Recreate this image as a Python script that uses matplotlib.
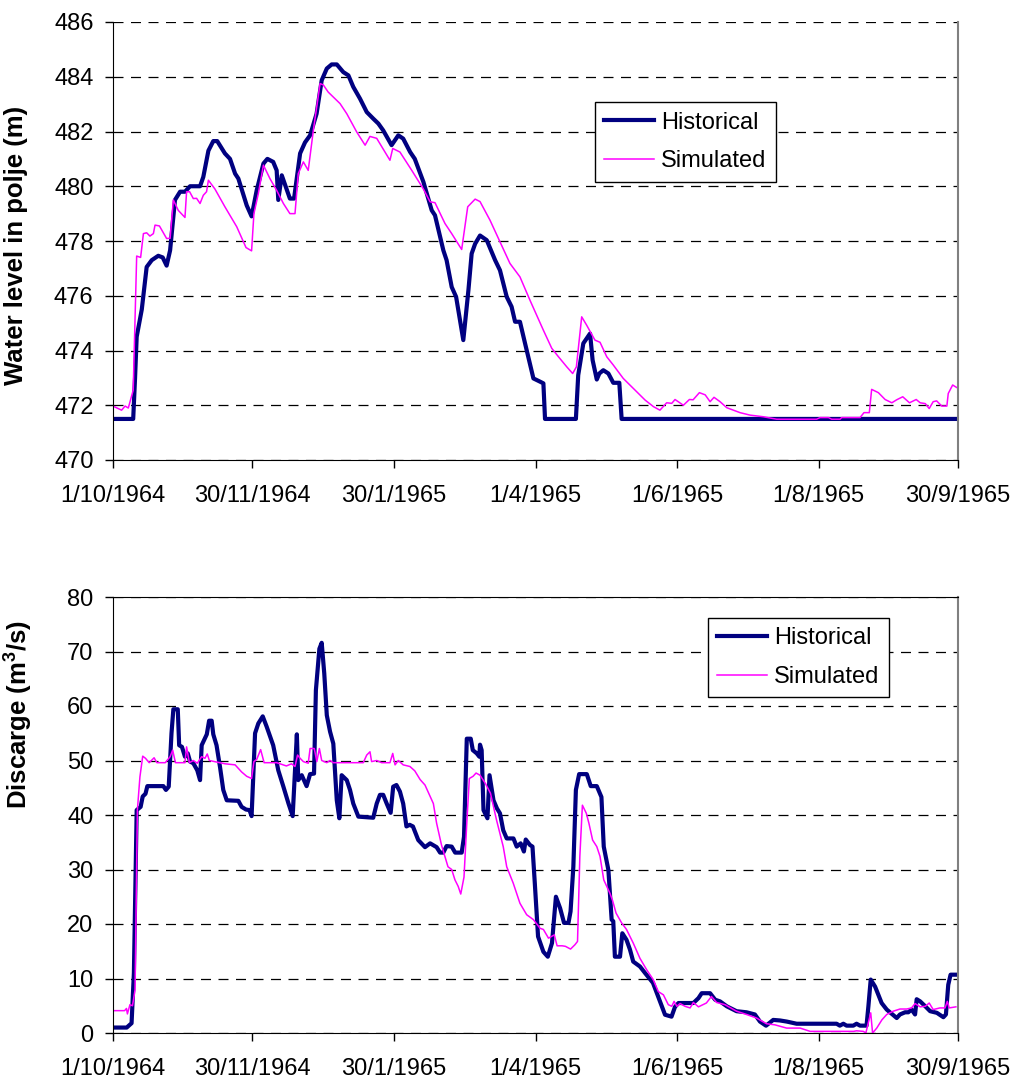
import matplotlib
matplotlib.use("Agg")
import matplotlib.pyplot as plt
import numpy as np
import pandas as pd

plt.rcParams['font.family'] = ['Liberation Sans', 'DejaVu Sans']
plt.rcParams['mathtext.fontset'] = 'custom'
plt.rcParams['mathtext.rm'] = 'Liberation Sans'
plt.rcParams['mathtext.bf'] = 'Liberation Sans:bold'

START = pd.Timestamp('1964-10-01')
END = pd.Timestamp('1965-09-30')

# tick dates shown on both x axes
tick_dates = ['1964-10-01', '1964-11-30', '1965-01-30', '1965-04-01',
              '1965-06-01', '1965-08-01', '1965-09-30']

# ---- water level in polje (m), days since 1/10/1964 ----
level_hist_days = [0, 8.7, 9.5, 10.2, 12.4, 14.5, 16.7, 19.5, 21.4, 23.1,
                   24.6, 26.7, 28.9, 31, 33.2, 37.5, 38.9, 41.1, 43.2, 44.9,
                   48.2, 50.4, 52.6, 54.0, 57.6, 59.7, 61.9, 64.8, 66.5, 69,
                   70.5, 71.2, 72.7, 76.2, 78, 80.6, 82.7, 84.9, 87.7, 89.9,
                   92.1, 94.2, 96.4, 99.2, 101.4, 103.5, 106.4, 109.3, 112.1, 114.3,
                   116.4, 120, 122.9, 125, 128, 130, 133.7, 137.3, 138.7, 142.3,
                   143.7, 145.9, 147.8, 150.9, 153.1, 154.5, 156, 158.1, 161, 164.6,
                   166.7, 169.6, 171.7, 173.2, 175.3, 177.5, 181.1, 184, 185.4, 186.1,
                   199.4, 200.4, 202.6, 205.5, 206.6, 208.4, 209.5, 211.2, 213.4, 215.5,
                   218.1, 219.1, 363.4]
level_hist = [471.5, 471.5, 473.0, 474.5, 475.5, 477.05, 477.3, 477.46, 477.4, 477.1,
              477.66, 479.5, 479.8, 479.8, 480.0, 480.0, 480.34, 481.3, 481.65, 481.65,
              481.2, 481.0, 480.46, 480.28, 479.3, 478.9, 479.85, 480.83, 481.0, 480.89,
              480.58, 479.5, 480.4, 479.55, 479.55, 481.2, 481.6, 481.86, 482.65, 483.87,
              484.3, 484.45, 484.45, 484.17, 484.05, 483.63, 483.2, 482.71, 482.47, 482.29,
              482.04, 481.5, 481.86, 481.74, 481.25, 481.0, 480.16, 479.12, 478.94, 477.66,
              477.3, 476.32, 475.96, 474.38, 476.2, 477.54, 477.9, 478.2, 478.03, 477.3,
              476.93, 475.96, 475.6, 475.05, 475.05, 474.26, 472.98, 472.86, 472.8, 471.5,
              471.5, 473.1, 474.26, 474.62, 473.65, 472.94, 473.16, 473.28, 473.16, 472.82,
              472.82, 471.5, 471.5]

level_sim_days = [0, 3.7, 5.2, 6.6, 8.7, 10.2, 11.9, 13.1, 14.5, 15.9,
                  17.4, 18.1, 20, 23.1, 24.6, 26, 28.1, 31, 31.7, 33,
                  34.6, 36, 37.5, 38.9, 40.3, 41.1, 43.9, 48.2, 53.3, 57.3,
                  59.7, 60.7, 62.6, 64.8, 67.6, 70.5, 73.4, 76.2, 78.4, 79.8,
                  82, 84.1, 86.3, 89.2, 90.6, 92.7, 97.8, 100.7, 105, 108.6,
                  110.7, 113.6, 119.3, 120.5, 123.6, 128.7, 133.7, 136.6, 138.7, 143,
                  145.9, 150.2, 152.8, 156, 158.1, 162.4, 166.7, 171, 175.3, 179.6,
                  185.4, 189, 191.9, 195.5, 198, 199.6, 201.9, 204, 207.6, 209.8,
                  212.7, 215.5, 219.8, 224.1, 229.2, 232.8, 235.6, 238.5, 240.7, 242.1,
                  245.7, 248.3, 249.9, 252.6, 255.1, 257.2, 258.9, 261.5, 264.4, 270.1,
                  274.4, 280.1, 285.9, 303.1, 304.6, 308.2, 309.6, 313.2, 313.9, 321.8,
                  323.5, 325.8, 326.8, 329.7, 332.6, 335.5, 337.6, 340.2, 343.1, 346,
                  347.7, 349.9, 351.6, 353.3, 354.8, 357, 359.2, 359.8, 361.7, 363.4]
level_sim = [471.97, 471.82, 471.97, 471.9, 472.55, 477.45, 477.4, 478.27, 478.3, 478.18,
             478.27, 478.58, 478.55, 478.09, 478.1, 479.5, 479.12, 478.86, 479.8, 479.8,
             479.55, 479.56, 479.37, 479.67, 479.8, 480.22, 479.9, 479.25, 478.52, 477.76,
             477.64, 479.0, 479.73, 480.77, 480.28, 479.85, 479.37, 479.0, 479.0, 480.46,
             480.89, 480.58, 482.04, 483.75, 483.7, 483.44, 483.02, 482.65, 481.98, 481.5,
             481.82, 481.75, 480.95, 481.38, 481.25, 480.58, 479.9, 479.43, 479.4, 478.64,
             478.27, 477.69, 479.25, 479.53, 479.44, 478.76, 477.97, 477.18, 476.69, 475.84,
             474.74, 474.08, 473.77, 473.4, 473.16, 473.4, 475.23, 474.93, 474.38, 474.3,
             473.77, 473.47, 472.98, 472.62, 472.19, 471.95, 471.82, 472.09, 472.07, 472.21,
             472.0, 472.21, 472.2, 472.46, 472.38, 472.13, 472.29, 472.13, 471.91, 471.73,
             471.64, 471.58, 471.49, 471.49, 471.55, 471.55, 471.49, 471.49, 471.55, 471.55,
             471.73, 471.73, 472.58, 472.46, 472.21, 472.09, 472.2, 472.31, 472.09, 472.21,
             472.09, 472.06, 471.88, 472.13, 472.16, 471.97, 471.97, 472.43, 472.74, 472.65]

# ---- discharge (m3/s) ----
flow_hist_days = [0, 5.9, 8.0, 9.0, 10.2, 11.9, 12.8, 14, 14.8, 21.7,
                  22.8, 24, 25.2, 26, 27.9, 28.5, 29.7, 31, 32.2, 33.2,
                  34.6, 36.3, 37.5, 38.2, 40.4, 41.4, 42.5, 43.2, 44.6, 46.1,
                  47.5, 49, 54, 55.4, 57.3, 58.8, 59.7, 61.2, 62.6, 64.5,
                  66.2, 69, 71.2, 73.4, 75.6, 77.4, 79.2, 79.8, 81.3, 83.4,
                  84.9, 86.6, 87.4, 88.9, 89.9, 91, 92.1, 93.5, 94.9, 96.4,
                  97.5, 98.5, 100.7, 102.1, 103.5, 105.7, 112.1, 113.6, 115, 116.4,
                  117.9, 119.6, 120.7, 122.1, 123.6, 125, 126.4, 127.8, 129.2, 131.5,
                  134.4, 136.6, 139.4, 140.9, 142.3, 143.7, 145.9, 147.4, 150.2, 151.2,
                  152.4, 154.1, 155, 156.7, 157.8, 158.1, 158.8, 159.6, 161.3, 162.2,
                  163.9, 165.4, 166.7, 168.1, 169.6, 172.5, 173.9, 175.6, 177, 177.8,
                  179.6, 180.7, 181.7, 183.1, 185.4, 187.3, 189.1, 190.8, 192.6, 194.3,
                  196.2, 197.1, 198.3, 199.4, 200.8, 204.1, 205.8, 208.4, 210.4, 211.4,
                  213.4, 214.8, 215.5, 216.2, 218.4, 219.4, 221.2, 222.7, 224.1, 227,
                  229.2, 232.6, 235.6, 237.8, 240.6, 242.1, 243.6, 250, 252.2, 253.6,
                  257.2, 259.4, 261.5, 264.4, 268.6, 272.9, 276.5, 278.7, 281.3, 284.4,
                  287.3, 290.2, 294.5, 311.7, 313.1, 314.6, 316, 318.9, 320.3, 321.8,
                  324.6, 325.4, 326.4, 328.3, 331.1, 333.3, 337.6, 339, 341.2, 342.6,
                  344, 345.5, 346.2, 347.7, 349.9, 352, 354.9, 357.7, 358.8, 359.8,
                  360.8, 363.1]
flow_hist = [1.0, 1.0, 1.8, 11, 40.9, 41.5, 43.4, 43.9, 45.3, 45.3,
             44.6, 45.2, 55, 59.4, 59.4, 52.8, 52.5, 50.7, 51.3, 49.8,
             49.5, 48.2, 46.4, 52.8, 54.8, 57.3, 57.3, 54.8, 52.8, 48.8,
             44.6, 42.7, 42.6, 41.5, 41.0, 40.9, 39.8, 55, 56.8, 58.1,
             56.2, 52.8, 48.2, 45.2, 42.1, 39.8, 54.8, 46.4, 47.3, 45.3,
             47.5, 47.6, 62.9, 70.5, 71.6, 66, 58.3, 55.3, 53.1, 42.7,
             39.4, 47.3, 46.4, 44.6, 42.1, 39.7, 39.5, 42.1, 43.7, 43.7,
             42.1, 40.4, 45.2, 45.5, 44.3, 42.1, 37.9, 38.2, 37.9, 35.4,
             34.1, 34.8, 34.1, 33.1, 33.1, 34.3, 34.2, 33.1, 33.1, 36,
             54.0, 54.0, 51.9, 51.3, 50.7, 52.9, 51.9, 40.9, 39.4, 47.3,
             42.7, 41.2, 40.3, 37.2, 35.7, 35.7, 34.2, 34.8, 33.3, 35.5,
             34.5, 34.2, 27.5, 17.7, 14.9, 14.0, 16.5, 25.0, 22.9, 20.2,
             20.2, 22.3, 30.5, 44.6, 47.5, 47.5, 45.3, 45.3, 43.3, 34.2,
             29.9, 20.8, 20.5, 14.0, 14.0, 18.3, 17.1, 15.3, 13.1, 12.2,
             11, 9.2, 5.8, 3.35, 3.0, 4.8, 5.5, 5.5, 6.4, 7.3,
             7.3, 6.1, 5.8, 4.9, 4.0, 3.8, 3.4, 2.1, 1.34, 2.4,
             2.3, 2.1, 1.7, 1.7, 1.35, 1.7, 1.35, 1.35, 1.7, 1.35,
             1.35, 4.9, 9.8, 8.5, 5.5, 4.3, 2.75, 3.4, 3.8, 3.8,
             4.3, 3.4, 6.2, 5.8, 4.9, 4.0, 3.7, 2.9, 3.4, 8.85,
             10.7, 10.7]

flow_sim_days = [0, 5, 5.8, 6.2, 7.3, 8.4, 9.5, 10.5, 11.6, 12.8,
                 14, 15.6, 17.7, 18.9, 22.5, 24.6, 25.7, 26.9, 31, 31.7,
                 32.9, 34.6, 36.3, 38.2, 39.6, 40.6, 41.5, 46.1, 48.2, 52.6,
                 55.4, 57.6, 59.7, 60.7, 61.9, 63.6, 65.1, 70.5, 74.7, 76.9,
                 78.4, 79.5, 80.6, 82, 84.1, 84.9, 86.7, 87.8, 88.9, 89.9,
                 92.1, 93.5, 94.9, 107.8, 109.3, 110.7, 111.4, 113.6, 115.7, 119.3,
                 120.5, 121.5, 122.9, 125, 127.9, 130, 132.3, 134.4, 136.6, 138,
                 139.4, 141.5, 144.3, 145.9, 147.3, 148.7, 149.8, 151.2, 152.4, 153.5,
                 155.1, 156.4, 158.1, 160.4, 162.6, 165.2, 168.1, 169.6, 172.4, 175.3,
                 178.2, 181.1, 184, 185.4, 187.6, 190.1, 191.3, 193.5, 194.9, 197.1,
                 199, 200.1, 201.1, 202.2, 203.9, 205, 206.6, 208.4, 209.8, 211.4,
                 214.1, 215.2, 216.7, 219.1, 221.2, 224.1, 227, 229.9, 232.7, 234.9,
                 237.1, 239.2, 240.7, 241.7, 242.9, 244.3, 246.4, 248.6, 250, 252.2,
                 255.6, 257.8, 260, 263.6, 268.6, 272.9, 277.2, 281.5, 285.1, 290.2,
                 296, 300.3, 319, 320.3, 323.2, 324.3, 326.4, 327.2, 329, 331.2,
                 333.3, 336.1, 339, 341.9, 344, 345.5, 347.7, 349.9, 351.6, 353.3,
                 356.2, 358.4, 359.4, 360.2, 363.1]
flow_sim = [4.1, 4.1, 4.5, 3.5, 5.2, 5.0, 7.9, 40.9, 47.0, 50.8,
            50.4, 49.6, 50.5, 49.6, 49.6, 50.7, 51.9, 49.6, 49.6, 52.5,
            49.6, 50.0, 49.5, 50.7, 50.4, 51.2, 50.0, 49.6, 49.4, 49.2,
            47.9, 47.1, 46.7, 49.8, 50.2, 52.0, 49.6, 49.6, 49.0, 49.4,
            48.9, 51.0, 50.4, 49.8, 49.5, 52.2, 52.2, 49.8, 52.2, 50.0,
            49.6, 50.0, 49.6, 49.6, 51.0, 51.6, 49.8, 50.0, 49.6, 49.6,
            51.3, 49.2, 50.0, 49.2, 48.9, 48.1, 46.5, 45.5, 43.4, 42.1,
            38.5, 34.5, 30.5, 30.0, 28.1, 26.9, 25.5, 28.6, 38.5, 46.7,
            47.1, 47.7, 47.3, 45.8, 44.0, 39.1, 34.2, 30.5, 27.5, 23.8,
            21.7, 20.8, 19.2, 19.0, 17.4, 18.0, 16.0, 16.0, 15.9, 15.4,
            16.2, 16.8, 32.4, 41.8, 40.3, 38.5, 35.4, 34.2, 32.4, 28.1,
            25.6, 24.3, 22.0, 20.2, 19.0, 16.5, 13.7, 11.6, 9.8, 7.6,
            7.0, 5.2, 4.9, 5.8, 4.9, 5.4, 4.9, 4.6, 5.6, 4.8,
            5.5, 6.7, 5.6, 5.2, 4.0, 3.4, 2.75, 1.7, 1.5, 0.9,
            0.9, 0.3, 0.3, 0.4, 0.3, 0.0, 3.7, 0.0, 0.9, 2.4,
            3.4, 4.0, 4.4, 4.4, 4.6, 5.4, 4.8, 4.9, 5.5, 4.3,
            4.6, 4.6, 5.8, 4.6, 4.8]


def to_dates(days):
    return START + pd.to_timedelta(np.asarray(days, dtype=float), unit='D')


HIST_COLOR = '#000080'
SIM_COLOR = '#FF00FF'
FS = 17
LABEL_FS = 18.5

fig = plt.figure(figsize=(10.22, 10.81), dpi=100)
ax1 = fig.add_axes([113 / 1022, 1 - 460 / 1081, 845 / 1022, 438 / 1081])
ax2 = fig.add_axes([113 / 1022, 1 - 1033 / 1081, 845 / 1022, 436 / 1081])

ticks = pd.to_datetime(tick_dates)
tick_labels = ['{}/{}/{}'.format(d.day, d.month, d.year) for d in ticks]


def style(ax, ylo, yhi, step, top_solid):
    ax.set_xlim(START, END)
    ax.set_ylim(ylo, yhi)
    ax.set_yticks(np.arange(ylo, yhi + step / 2, step))
    ax.set_xticks(ticks)
    ax.set_xticklabels(tick_labels)
    ax.yaxis.grid(True, color='black', linewidth=0.9, linestyle=(0, (8, 6)))
    ax.set_axisbelow(True)
    ax.tick_params(axis='y', direction='out', length=6, width=1, pad=8, labelsize=FS)
    ax.tick_params(axis='x', direction='out', length=6, width=1, pad=12, labelsize=FS)
    ax.spines['left'].set_color('black')
    ax.spines['bottom'].set_color('black')
    ax.spines['right'].set_color('#808080')
    ax.spines['right'].set_linewidth(1.5)
    if top_solid:
        ax.spines['top'].set_color('black')
    else:
        ax.spines['top'].set_visible(False)


def add_legend(ax, anchor):
    leg = ax.legend(loc='upper left', bbox_to_anchor=anchor, borderaxespad=0,
                    fontsize=FS, fancybox=False, edgecolor='black', framealpha=1,
                    handlelength=2.1, handletextpad=0.3, labelspacing=0.7, borderpad=0.4)
    leg.get_frame().set_linewidth(1)


ax1.plot(to_dates(level_hist_days), level_hist, color=HIST_COLOR, lw=3.0,
         label='Historical', solid_joinstyle='round')
ax1.plot(to_dates(level_sim_days), level_sim, color=SIM_COLOR, lw=1.1,
         label='Simulated')
style(ax1, 470, 486, 2, False)
ax1.set_ylabel('Water level in polje (m)', fontsize=LABEL_FS, fontweight='bold')
ax1.yaxis.set_label_coords(-0.100, 0.49)
add_legend(ax1, (0.570, 0.817))

ax2.plot(to_dates(flow_hist_days), flow_hist, color=HIST_COLOR, lw=3.0,
         label='Historical', solid_joinstyle='round')
ax2.plot(to_dates(flow_sim_days), flow_sim, color=SIM_COLOR, lw=1.1,
         label='Simulated')
style(ax2, 0, 80, 10, True)
ax2.set_ylabel(r'Discarge (m$^{\mathbf{3}}$/s)', fontsize=LABEL_FS, fontweight='bold')
ax2.yaxis.set_label_coords(-0.093, 0.73)
add_legend(ax2, (0.704, 0.952))

fig.savefig('out.png', dpi=100)
